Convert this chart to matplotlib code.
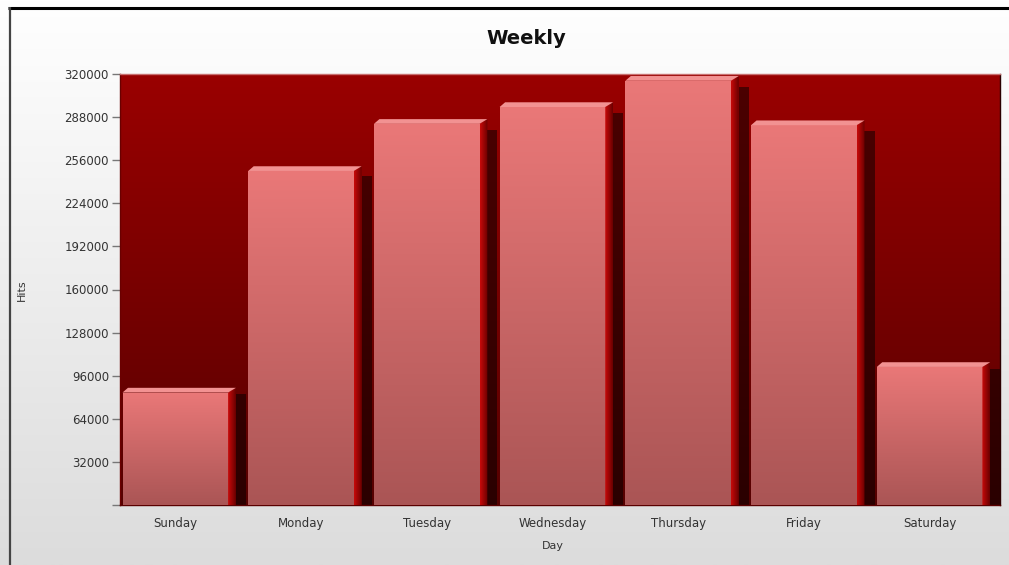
import numpy as np
import matplotlib
matplotlib.use("Agg")
import matplotlib.pyplot as plt
from matplotlib.patches import Polygon, Rectangle

# ---------- data ----------
days = ["Sunday", "Monday", "Tuesday", "Wednesday", "Thursday", "Friday", "Saturday"]
hits = [83500, 248000, 283000, 295500, 315000, 282000, 102500]
y_ticks = list(range(0, 320001, 32000))
y_tick_labels = [""] + [str(v) for v in y_ticks[1:]]

W, H = 1009, 565


def vgrad(top, bottom, n=256):
    t = np.linspace(0, 1, n)[:, None]
    top = np.array(top) / 255.0
    bottom = np.array(bottom) / 255.0
    return (top * (1 - t) + bottom * t)[:, None, :]


def hgrad(left, right, n=64):
    t = np.linspace(0, 1, n)[None, :, None]
    left = np.array(left) / 255.0
    right = np.array(right) / 255.0
    return left * (1 - t) + right * t


fig = plt.figure(figsize=(W / 100, H / 100), dpi=100)

# figure background: white -> light grey
bg = fig.add_axes([0, 0, 1, 1], zorder=-5)
bg.imshow(vgrad((255, 255, 255), (220, 220, 220)), extent=[0, 1, 0, 1],
          aspect="auto", transform=bg.transAxes)
bg.plot([8 / W, 1], [1 - 7.5 / H] * 2, color="#000", lw=2.2,
        transform=bg.transAxes, solid_capstyle="butt")
bg.plot([9.5 / W] * 2, [0, 1 - 7 / H], color="#444", lw=1.6,
        transform=bg.transAxes, solid_capstyle="butt")
bg.set_xlim(0, 1)
bg.set_ylim(0, 1)
bg.axis("off")

# ---------- plot area ----------
ax = fig.add_axes([120 / W, 1 - 505 / H, 880 / W, 431 / H])
x0_lim, x1_lim = -0.44, 6.56
ymax = 320000

ax.imshow(vgrad((154, 0, 0), (86, 0, 0)), extent=[x0_lim, x1_lim, 0, ymax],
          aspect="auto", zorder=0)

x = np.arange(len(days))
bw = 0.84
dx = 0.062
dy = 3500

bars = ax.bar(x, hits, width=bw, color="none", linewidth=0, zorder=3)

for rect, v in zip(bars, hits):
    bx0 = rect.get_x()
    bx1 = bx0 + rect.get_width()

    # shadow behind the side face
    sh = Rectangle((bx1 + dx, 0), 0.08, v * 0.985, facecolor="#000",
                   alpha=0.5, linewidth=0, zorder=2)
    ax.add_patch(sh)

    # front face with vertical gradient
    im = ax.imshow(vgrad((234, 120, 120), (170, 85, 85)),
                   extent=[bx0, bx1, 0, v], aspect="auto", zorder=3)
    im.set_clip_path(rect)

    # side face
    side = Polygon([(bx1, 0), (bx1 + dx, 0), (bx1 + dx, v + dy), (bx1, v)],
                   closed=True, facecolor="none", linewidth=0, zorder=3)
    ax.add_patch(side)
    sim = ax.imshow(hgrad((200, 10, 10), (105, 0, 0)),
                    extent=[bx1, bx1 + dx, 0, v + dy], aspect="auto", zorder=3)
    sim.set_clip_path(side)

    # top face
    top = Polygon([(bx0, v), (bx0 + dx * 0.7, v + dy), (bx1 + dx, v + dy), (bx1, v)],
                  closed=True, facecolor="#f29292", linewidth=0, zorder=4)
    ax.add_patch(top)

ax.set_xlim(x0_lim, x1_lim)
ax.set_ylim(0, ymax)

ax.set_yticks(y_ticks)
ax.set_yticklabels(y_tick_labels)
ax.tick_params(axis="y", length=6, width=1, color="#777", labelsize=8.5,
               labelcolor="#333", pad=2)
ax.set_xticks(x)
ax.set_xticklabels(days)
ax.tick_params(axis="x", length=0, labelsize=8.5, labelcolor="#333", pad=9)

for side_name, col in [("left", "#6a0000"), ("right", "#2a0000"),
                       ("top", "#c87070"), ("bottom", "#5a0000")]:
    ax.spines[side_name].set_color(col)
    ax.spines[side_name].set_linewidth(1)

fig.text(526 / W, 1 - 38 / H, "Weekly", fontsize=14, fontweight="bold",
         ha="center", va="center", color="#111")
fig.text(22 / W, 1 - 290 / H, "Hits", rotation=90, fontsize=8,
         ha="center", va="center", color="#333")
fig.text(553 / W, 1 - 546 / H, "Day", fontsize=8,
         ha="center", va="center", color="#333")

fig.savefig("out.png", dpi=100)
plt.close(fig)
